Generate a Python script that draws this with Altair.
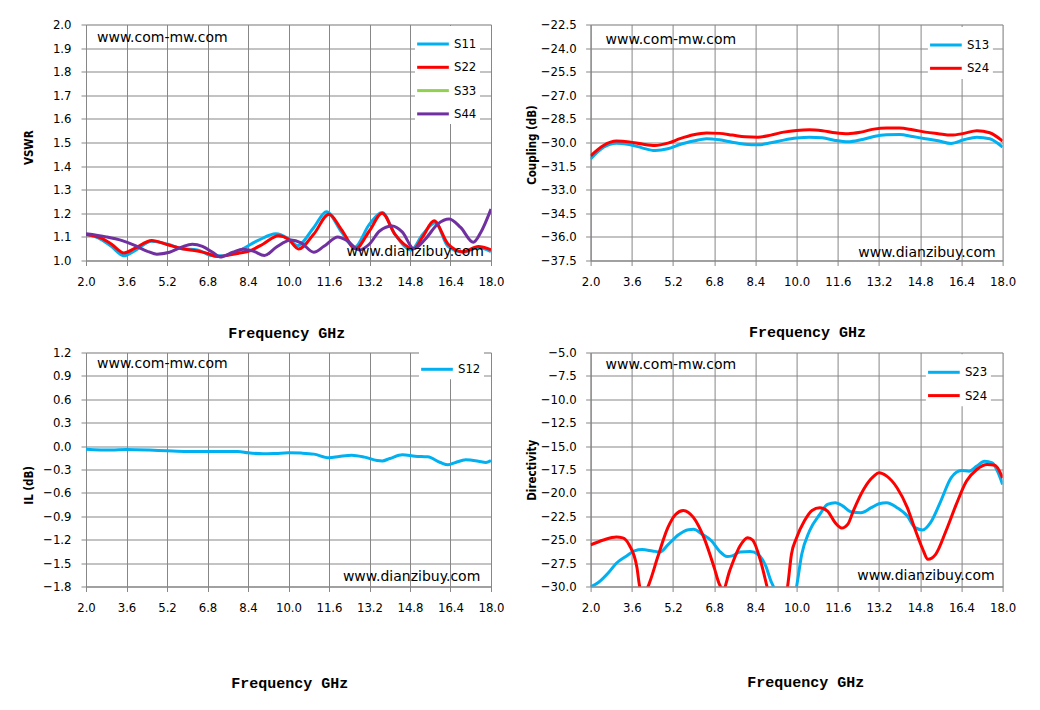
import altair as alt
import pandas as pd

FREQ_TICKS = [2.0, 3.6, 5.2, 6.8, 8.4, 10.0, 11.6, 13.2, 14.8, 16.4, 18.0]

# ---------------- VSWR (top-left)
vswr_ticks = [1.0, 1.1, 1.2, 1.3, 1.4, 1.5, 1.6, 1.7, 1.8, 1.9, 2.0]
s11_f = [2.0, 2.5, 3.0, 3.5, 3.9, 4.6, 5.2, 5.8, 6.4, 7.0, 7.4, 8.0, 8.8, 9.5, 10.0, 10.35,
         11.0, 11.5, 12.1, 12.6, 13.2, 13.7, 14.2, 14.85, 15.3, 15.8, 16.3, 16.9, 17.5, 18.0]
s11_v = [1.11, 1.095, 1.06, 1.02, 1.04, 1.082, 1.07, 1.05, 1.045, 1.02, 1.02, 1.04, 1.085, 1.113, 1.092, 1.063,
         1.14, 1.207, 1.12, 1.055, 1.154, 1.203, 1.112, 1.045, 1.11, 1.16, 1.06, 1.035, 1.055, 1.038]
s22_f = [2.0, 2.6, 3.0, 3.5, 3.9, 4.6, 5.2, 5.8, 6.4, 6.8, 7.2, 7.6, 8.0, 8.5, 9.0, 9.6, 10.0, 10.4,
         11.0, 11.6, 12.1, 12.65, 13.2, 13.7, 14.2, 14.95, 15.3, 15.75, 16.3, 16.9, 17.5, 18.0]
s22_v = [1.11, 1.095, 1.07, 1.032, 1.05, 1.085, 1.068, 1.05, 1.04, 1.03, 1.017, 1.022, 1.03, 1.042, 1.07, 1.105, 1.09, 1.049,
         1.112, 1.196, 1.13, 1.05, 1.126, 1.2, 1.112, 1.05, 1.1, 1.168, 1.07, 1.037, 1.059, 1.045]
s44_f = [2.0, 2.8, 3.4, 3.9, 4.4, 4.8, 5.3, 5.8, 6.2, 6.6, 7.0, 7.3, 7.8, 8.2, 8.6, 9.05, 9.5, 10.1, 10.5,
         11.0, 11.4, 11.95, 12.3, 12.8, 13.2, 13.6, 14.1, 14.5, 14.95, 15.4, 15.9, 16.35, 16.8, 17.3, 17.6, 18.0]
s44_v = [1.113, 1.1, 1.085, 1.065, 1.04, 1.027, 1.035, 1.058, 1.069, 1.06, 1.035, 1.015, 1.035, 1.048, 1.04, 1.021, 1.055, 1.087, 1.075,
         1.035, 1.06, 1.1, 1.085, 1.045, 1.07, 1.125, 1.146, 1.12, 1.05, 1.09, 1.155, 1.176, 1.14, 1.077, 1.12, 1.218]

# ---------------- Coupling (top-right)
cpl_ticks = [-22.5, -24.0, -25.5, -27.0, -28.5, -30.0, -31.5, -33.0, -34.5, -36.0, -37.5]
cpl_f = [2.0, 2.5, 3.0, 3.5, 4.0, 4.5, 5.0, 5.5, 6.0, 6.5, 7.0, 7.5, 8.0, 8.5, 9.0, 9.5, 10.0,
         10.5, 11.0, 11.5, 12.0, 12.5, 13.0, 13.5, 14.0, 14.5, 15.0, 15.5, 16.0, 16.5, 17.0, 17.5, 18.0]
s13_v = [-31.05, -30.3, -30.04, -30.13, -30.34, -30.51, -30.4, -30.11, -29.91, -29.76, -29.83, -29.98, -30.11, -30.15, -30.02, -29.85, -29.72,
         -29.66, -29.7, -29.87, -29.96, -29.83, -29.62, -29.51, -29.49, -29.62, -29.76, -29.89, -30.06, -29.83, -29.66, -29.76, -30.3]
s24c_v = [-30.85, -30.19, -29.91, -29.96, -30.1, -30.19, -30.04, -29.74, -29.51, -29.4, -29.42, -29.53, -29.64, -29.66, -29.53, -29.34, -29.23,
          -29.19, -29.25, -29.38, -29.44, -29.34, -29.15, -29.08, -29.08, -29.19, -29.34, -29.44, -29.53, -29.42, -29.25, -29.38, -29.91]

# ---------------- Insertion loss (bottom-left)
il_ticks = [1.2, 0.9, 0.6, 0.3, 0.0, -0.3, -0.6, -0.9, -1.2, -1.5, -1.8]
s12_f = [2.0, 3.0, 3.6, 4.5, 5.2, 6.0, 7.0, 8.0, 8.4, 9.0, 9.5, 10.0, 10.5, 11.0, 11.6, 12.0, 12.5, 13.0,
         13.5, 13.7, 14.0, 14.5, 15.0, 15.5, 16.0, 16.3, 16.6, 17.0, 17.5, 17.8, 18.0]
s12_v = [-0.039, -0.05, -0.043, -0.05, -0.06, -0.069, -0.069, -0.069, -0.086, -0.099, -0.094, -0.086, -0.09, -0.103, -0.15, -0.133, -0.116, -0.141,
         -0.184, -0.19, -0.159, -0.111, -0.129, -0.137, -0.21, -0.24, -0.21, -0.176, -0.193, -0.21, -0.184]

# ---------------- Directivity (bottom-right)
dir_ticks = [-5.0, -7.5, -10.0, -12.5, -15.0, -17.5, -20.0, -22.5, -25.0, -27.5, -30.0]
s23_f = [2.0, 2.3, 2.7, 3.0, 3.4, 3.7, 4.0, 4.4, 4.7, 5.0, 5.4, 5.8, 6.0, 6.3, 6.7, 7.0, 7.3, 7.5, 7.8, 8.2, 8.5,
         8.8, 9.0, 9.1, 9.5, 10.0, 10.2, 10.5, 10.9, 11.2, 11.5, 11.8, 12.1, 12.5, 12.9, 13.2, 13.5, 13.9, 14.3,
         14.6, 14.9, 15.2, 15.6, 16.0, 16.4, 16.7, 17.0, 17.3, 17.6, 17.8, 18.0]
s23_v = [-30.05, -29.57, -28.5, -27.51, -26.73, -26.2, -26.06, -26.2, -26.31, -25.56, -24.5, -23.93, -23.89, -24.35, -25.13, -26.2, -26.8, -26.73, -26.31, -26.27, -26.56,
         -27.8, -29.4, -30.0, -34.0, -30.0, -26.56, -24.07, -22.29, -21.23, -21.05, -21.41, -22.01, -22.12, -21.58, -21.16, -21.05, -21.58, -22.47,
         -23.71, -23.96, -23.18, -20.87, -18.39, -17.61, -17.68, -17.14, -16.61, -16.79, -17.68, -19.1]
s24d_f = [2.0, 2.5, 3.0, 3.25, 3.5, 3.8, 3.9, 4.05, 4.2, 4.3, 4.6, 5.0, 5.3, 5.6, 6.0, 6.4, 6.8, 7.0, 7.15, 7.4, 7.8, 8.1, 8.3, 8.6,
          8.85, 9.2, 9.65, 9.8, 10.0, 10.3, 10.6, 10.9, 11.2, 11.5, 11.75, 12.0, 12.2, 12.6, 13.0, 13.2, 13.5, 13.9, 14.3,
          14.6, 14.9, 15.1, 15.4, 15.8, 16.2, 16.6, 17.0, 17.4, 17.7, 18.0]
s24d_v = [-25.56, -25.03, -24.71, -24.8, -25.56, -27.98, -29.9, -30.8, -30.2, -29.5, -26.91, -23.71, -22.3, -21.87, -22.65, -24.78, -27.98, -29.75, -30.3, -28.33, -25.67, -24.78, -25.06, -27.27,
          -30.0, -34.0, -30.0, -26.56, -24.78, -23.0, -21.87, -21.58, -21.94, -23.18, -23.75, -23.3, -21.94, -19.63, -18.21, -17.86, -18.21, -19.45, -21.58,
          -23.89, -26.02, -27.09, -26.56, -24.07, -21.23, -18.74, -17.5, -16.97, -17.04, -18.39]

BLUE, RED, GREEN, PURPLE = "#00B0F0", "#FF0000", "#92D050", "#7030A0"
GRID = "#878787"
TICK_FONT = "DejaVu Sans Condensed, Liberation Sans, sans-serif"
WM_FONT = "DejaVu Sans"
XT_FONT = "Liberation Mono, DejaVu Sans Mono, monospace"


def frame(series):
    parts = [pd.DataFrame({"f": f, "v": v, "s": name}) for name, f, v in series]
    return pd.concat(parts, ignore_index=True)


def panel(series, names, colors, ydom, yticks, ytitle, w, h,
          ytx, yty, xtx, xty, legx, legy, ylabpad, wm1, wm2):
    df = frame(series)
    xaxis = alt.Axis(values=FREQ_TICKS, format=".1f", title="Frequency GHz",
                     grid=True, gridColor=GRID, gridWidth=1, domainColor=GRID, tickColor=GRID,
                     tickSize=5, labelPadding=10, labelFlush=False, labelOverlap=False,
                     labelFont=TICK_FONT, labelFontSize=13, labelColor="black",
                     titleFont=XT_FONT, titleFontSize=15, titleFontWeight="bold", titleColor="black",
                     titleX=xtx, titleY=xty, titleBaseline="alphabetic", titleAlign="center")
    yaxis = alt.Axis(values=yticks, format=".1f", title=ytitle,
                     grid=True, gridColor=GRID, gridWidth=1, domainColor=GRID, tickColor=GRID,
                     tickSize=5, labelPadding=ylabpad, labelFlush=False, labelOverlap=False,
                     labelFont=TICK_FONT, labelFontSize=13, labelColor="black",
                     titleFont=TICK_FONT, titleFontSize=11.5, titleFontWeight="bold", titleColor="black",
                     titleX=ytx, titleY=yty, titleAngle=270, titleBaseline="middle", titleAlign="center")
    legend = alt.Legend(title=None, orient="none", legendX=legx, legendY=legy,
                        symbolType="M-1.2,0L1.2,0", symbolSize=697, symbolStrokeWidth=3,
                        labelFont=TICK_FONT, labelFontSize=13, labelColor="black",
                        labelOffset=6, rowPadding=1.3, padding=3, fillColor="white")
    lines = alt.Chart(df).mark_line(strokeWidth=3, clip=True, interpolate="monotone").encode(
        x=alt.X("f:Q", scale=alt.Scale(domain=[2, 18], nice=False, zero=False), axis=xaxis),
        y=alt.Y("v:Q", scale=alt.Scale(domain=ydom, nice=False, zero=False), axis=yaxis),
        color=alt.Color("s:N", scale=alt.Scale(domain=names, range=colors), legend=legend),
    )
    t1 = alt.Chart(pd.DataFrame({"t": ["www.com-mw.com"]})).mark_text(
        align="left", baseline="alphabetic", font=WM_FONT, fontSize=14, color="black"
    ).encode(x=alt.value(wm1[0]), y=alt.value(wm1[1]), text="t:N")
    t2 = alt.Chart(pd.DataFrame({"t": ["www.dianzibuy.com"]})).mark_text(
        align="right", baseline="alphabetic", font=WM_FONT, fontSize=14, color="black"
    ).encode(x=alt.value(wm2[0]), y=alt.value(wm2[1]), text="t:N")
    return alt.layer(lines, t1, t2).properties(width=w, height=h)


p1 = panel([("S11", s11_f, s11_v), ("S22", s22_f, s22_v), ("S44", s44_f, s44_v)],
           ["S11", "S22", "S33", "S44"], [BLUE, RED, GREEN, PURPLE],
           [1.0, 2.0], vswr_ticks, "VSWR", 405, 236,
           -56.4, 122.7, 200.3, 77.3, 329, 1.5, 10, (11, 17.7), (398, 231))
p2 = panel([("S13", cpl_f, s13_v), ("S24", cpl_f, s24c_v)],
           ["S13", "S24"], [BLUE, RED],
           [-37.5, -22.5], cpl_ticks, "Coupling (dB)", 412, 236,
           -58, 120, 216.5, 76.3, 337.3, 2.5, 9.5, (15, 19), (405, 232))
p3 = panel([("S12", s12_f, s12_v)],
           ["S12"], [BLUE],
           [-1.8, 1.2], il_ticks, "IL (dB)", 405, 234,
           -56.4, 132.3, 203.3, 100.7, 333, -1.2, 10, (11, 15.7), (394.3, 228))
p4 = panel([("S23", s23_f, s23_v), ("S24", s24d_f, s24d_v)],
           ["S23", "S24"], [BLUE, RED],
           [-30.0, -5.0], dir_ticks, "Directivity", 412, 234,
           -58, 117.3, 214.7, 100, 335.3, 1.8, 9.5, (15, 16.7), (404, 227))

top = alt.hconcat(p1, p2, spacing=20.6).resolve_scale(color="independent").resolve_legend(color="independent")
bottom = alt.hconcat(p3, p4, spacing=20.6).resolve_scale(color="independent").resolve_legend(color="independent")

chart = alt.vconcat(top, bottom, spacing=4).resolve_scale(
    color="independent"
).resolve_legend(color="independent").properties(
    padding={"left": 15, "top": 9.5, "right": 5, "bottom": 5}
).configure_view(stroke=None).configure(background="white")

chart.save("out.html", embed_options={"renderer": "svg", "actions": False})
